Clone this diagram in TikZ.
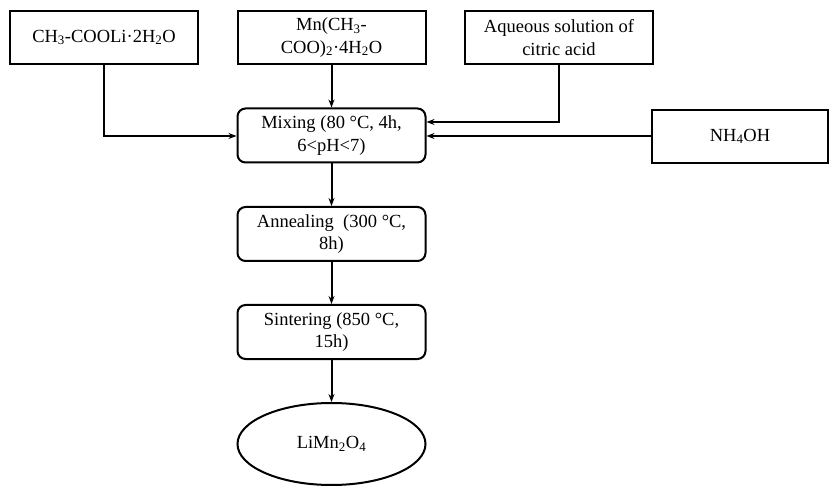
\documentclass[tikz,border=0pt]{standalone}
\usepackage{fontspec}
\setmainfont{Liberation Serif}
\usetikzlibrary{shapes.geometric,arrows.meta}
\begin{document}
\begin{tikzpicture}[x=1pt,y=-1pt,
  every node/.style={font=\fontsize{18.5}{22.5}\selectfont, align=center, line width=2pt, draw, inner sep=0pt},
  inbox/.style={rectangle, minimum width=188pt, minimum height=53pt},
  stepbox/.style={rectangle, rounded corners=8pt, minimum width=188pt, minimum height=54pt},
  prod/.style={ellipse, minimum width=188pt, minimum height=82pt},
  link/.style={line width=2pt, -{Stealth[length=8pt,width=6pt]}}
]
\useasboundingbox (0,0) rectangle (830,486);
\node[inbox] (li) at (104,37.5) {CH\textsubscript{3}-COOLi·2H\textsubscript{2}O};
\node[inbox] (mn) at (331.5,37.5) {Mn(CH\textsubscript{3}-\\COO)\textsubscript{2}·4H\textsubscript{2}O};
\node[inbox] (ca) at (559,37.5) {Aqueous solution of\\citric acid};
\node[stepbox] (mix) at (331.5,135.5) {Mixing (80 °C, 4h,\\6<pH<7)};
\node[inbox, minimum width=176pt] (nh) at (740,136.5) {NH\textsubscript{4}OH};
\node[stepbox] (ann) at (331.5,234) {Annealing\ \ (300 °C,\\8h)};
\node[stepbox] (sin) at (331.5,332) {Sintering (850 °C,\\15h)};
\node[prod] (lmo) at (331.5,444) {LiMn\textsubscript{2}O\textsubscript{4}};

\coordinate (mixL) at (mix.west |- 0,136);
\coordinate (mixR1) at (mix.east |- 0,122);
\coordinate (mixR2) at (mix.east |- 0,136);
\draw[link] (li.south) |- (mixL);
\draw[link] (mn.south) -- (mix.north);
\draw[link] (ca.south) |- (mixR1);
\draw[link] (nh.west |- mixR2) -- (mixR2);
\draw[link] (mix.south) -- (ann.north);
\draw[link] (ann.south) -- (sin.north);
\draw[link] (sin.south) -- (lmo.north);
\end{tikzpicture}
\end{document}
